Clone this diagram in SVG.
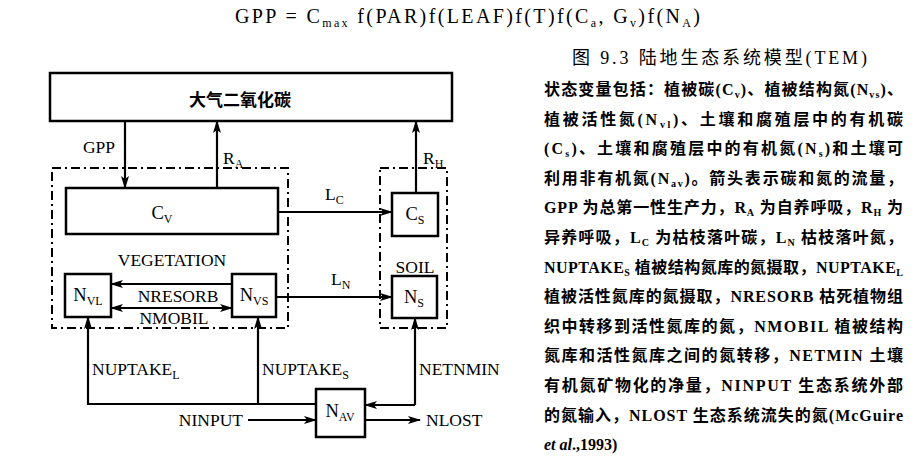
<svg xmlns="http://www.w3.org/2000/svg" width="919" height="476" viewBox="0 0 919 476">
<style>
.box{fill:none;stroke:#000;stroke-width:2.5}
.dash{fill:none;stroke:#000;stroke-width:2;stroke-dasharray:9 4 2 4}
.ln{fill:none;stroke:#000;stroke-width:2.2}
.arr{marker-end:url(#ah)}
.t{font-family:"Liberation Serif","Noto Sans CJK SC",serif;font-size:17.5px;fill:#000}
.n{font-size:18.5px}
.c{font-family:"Liberation Serif","Noto Sans CJK SC",serif;font-size:16px;font-weight:bold;fill:#000}
.s{font-size:12px}
.s2{font-size:10px}
</style>
<defs>
<marker id="ah" viewBox="0 0 13 8" refX="12" refY="4" markerWidth="13" markerHeight="8" markerUnits="userSpaceOnUse" orient="auto-start-reverse"><path d="M0,0 L13,4 L0,8 L3,4 z"/></marker>
</defs>
<rect width="919" height="476" fill="#fff"/>

<!-- equation -->
<text class="t" x="235" y="23" textLength="465" lengthAdjust="spacing" style="font-size:20px">GPP = C<tspan class="s" dy="4">max</tspan><tspan dy="-4"> f(PAR)f(LEAF)f(T)f(C</tspan><tspan class="s" dy="4">a</tspan><tspan dy="-4">, G</tspan><tspan class="s" dy="4">v</tspan><tspan dy="-4">)f(N</tspan><tspan class="s" dy="4">A</tspan><tspan dy="-4">)</tspan></text>

<!-- caption -->
<text class="t" x="572" y="64" textLength="295" lengthAdjust="spacing" style="font-size:18px">图 9.3  陆地生态系统模型(TEM)</text>

<!-- description -->
<g id="description">
<text class="c" x="544" y="95" textLength="359" lengthAdjust="spacing">状态变量包括：植被碳(C<tspan class="s2" dy="3">v</tspan><tspan dy="-3">)、植被结构氮(N</tspan><tspan class="s2" dy="3">vs</tspan><tspan dy="-3">)、</tspan></text>
<text class="c" x="544" y="124.6" textLength="359" lengthAdjust="spacing">植被活性氮(N<tspan class="s2" dy="3">vl</tspan><tspan dy="-3">)、土壤和腐殖层中的有机碳</tspan></text>
<text class="c" x="544" y="154.2" textLength="359" lengthAdjust="spacing">(C<tspan class="s2" dy="3">s</tspan><tspan dy="-3">)、土壤和腐殖层中的有机氮(N</tspan><tspan class="s2" dy="3">s</tspan><tspan dy="-3">)和土壤可</tspan></text>
<text class="c" x="544" y="183.8" textLength="359" lengthAdjust="spacing">利用非有机氮(N<tspan class="s2" dy="3">av</tspan><tspan dy="-3">)。箭头表示碳和氮的流量，</tspan></text>
<text class="c" x="544" y="213.4" textLength="359" lengthAdjust="spacing">GPP 为总第一性生产力，R<tspan class="s2" dy="3">A</tspan><tspan dy="-3"> 为自养呼吸，R</tspan><tspan class="s2" dy="3">H</tspan><tspan dy="-3"> 为</tspan></text>
<text class="c" x="544" y="243" textLength="359" lengthAdjust="spacing">异养呼吸，L<tspan class="s2" dy="3">C</tspan><tspan dy="-3"> 为枯枝落叶碳，L</tspan><tspan class="s2" dy="3">N</tspan><tspan dy="-3"> 枯枝落叶氮，</tspan></text>
<text class="c" x="544" y="272.6" textLength="359" lengthAdjust="spacing">NUPTAKE<tspan class="s2" dy="3">S</tspan><tspan dy="-3"> 植被结构氮库的氮摄取，NUPTAKE</tspan><tspan class="s2" dy="3">L</tspan></text>
<text class="c" x="544" y="302.2" textLength="359" lengthAdjust="spacing">植被活性氮库的氮摄取，NRESORB 枯死植物组</text>
<text class="c" x="544" y="331.8" textLength="359" lengthAdjust="spacing">织中转移到活性氮库的氮，NMOBIL 植被结构</text>
<text class="c" x="544" y="361.4" textLength="359" lengthAdjust="spacing">氮库和活性氮库之间的氮转移，NETMIN 土壤</text>
<text class="c" x="544" y="391" textLength="359" lengthAdjust="spacing">有机氮矿物化的净量，NINPUT 生态系统外部</text>
<text class="c" x="544" y="420.6" textLength="359" lengthAdjust="spacing">的氮输入，NLOST 生态系统流失的氮(McGuire</text>
<text class="c" x="544" y="450.2"><tspan font-style="italic">et al</tspan>.,1993)</text>
</g>

<!-- nodes -->
<g id="atmosphere">
<rect class="box" x="50" y="73" width="402" height="48"/>
<text class="t" x="240" y="106" text-anchor="middle" style="font-size:17px;font-weight:bold">大气二氧化碳</text>
</g>
<g id="vegetation">
<rect class="dash" x="52" y="168" width="236" height="160"/>
<text class="t" x="172" y="266" text-anchor="middle">VEGETATION</text>
</g>
<g id="soil">
<rect class="dash" x="380" y="168" width="67" height="160"/>
<text class="t" x="415" y="273" text-anchor="middle">SOIL</text>
</g>
<g id="Cv">
<rect class="box" x="66" y="188" width="212" height="46"/>
<text class="t n" x="162" y="219" text-anchor="middle">C<tspan class="s" dy="4">V</tspan></text>
</g>
<g id="Cs">
<rect class="box" x="392" y="193" width="46" height="43"/>
<text class="t n" x="415" y="220" text-anchor="middle">C<tspan class="s" dy="4">S</tspan></text>
</g>
<g id="NVL">
<rect class="box" x="65" y="274" width="46" height="43"/>
<text class="t n" x="88" y="301" text-anchor="middle">N<tspan class="s" dy="4">VL</tspan></text>
</g>
<g id="NVS">
<rect class="box" x="232" y="274" width="44" height="43"/>
<text class="t n" x="254" y="301" text-anchor="middle">N<tspan class="s" dy="4">VS</tspan></text>
</g>
<g id="NS">
<rect class="box" x="392" y="276" width="45" height="42"/>
<text class="t n" x="414" y="303" text-anchor="middle">N<tspan class="s" dy="4">S</tspan></text>
</g>
<g id="NAV">
<rect class="box" x="316" y="389" width="49" height="48"/>
<text class="t n" x="340" y="417" text-anchor="middle">N<tspan class="s" dy="4">AV</tspan></text>
</g>

<!-- connectors -->
<g id="connectors">
<line class="ln arr" x1="125" y1="121" x2="125" y2="188"/>
<line class="ln arr" x1="217" y1="188" x2="217" y2="121"/>
<line class="ln arr" x1="416" y1="193" x2="416" y2="121"/>
<line class="ln arr" x1="278" y1="212" x2="392" y2="212"/>
<line class="ln arr" x1="276" y1="297" x2="392" y2="297"/>
<line class="ln arr" x1="232" y1="284" x2="111" y2="284"/>
<line class="ln arr" x1="111" y1="308" x2="232" y2="308" style="marker-start:url(#ah)"/>
<polyline class="ln arr" points="316,404 88,404 88,317"/>
<line class="ln arr" x1="258" y1="404" x2="258" y2="317"/>
<line class="ln arr" x1="415" y1="405" x2="415" y2="318"/>
<line class="ln arr" x1="415" y1="405" x2="365" y2="405"/>
<line class="ln arr" x1="248" y1="420" x2="316" y2="420"/>
<line class="ln arr" x1="365" y1="420" x2="420" y2="420"/>
</g>

<!-- connector labels -->
<g id="labels">
<text class="t" x="115" y="153" text-anchor="end">GPP</text>
<text class="t" x="223" y="164">R<tspan class="s" dy="4">A</tspan></text>
<text class="t" x="423" y="164">R<tspan class="s" dy="4">H</tspan></text>
<text class="t" x="325" y="200">L<tspan class="s" dy="4">C</tspan></text>
<text class="t" x="331" y="285">L<tspan class="s" dy="4">N</tspan></text>
<text class="t" x="178" y="302" text-anchor="middle">NRESORB</text>
<text class="t" x="174" y="324" text-anchor="middle">NMOBIL</text>
<text class="t" x="92" y="375">NUPTAKE<tspan class="s" dy="4">L</tspan></text>
<text class="t" x="262" y="375">NUPTAKE<tspan class="s" dy="4">S</tspan></text>
<text class="t" x="419" y="375">NETNMIN</text>
<text class="t" x="243" y="426" text-anchor="end">NINPUT</text>
<text class="t" x="426" y="426">NLOST</text>
</g>
</svg>
